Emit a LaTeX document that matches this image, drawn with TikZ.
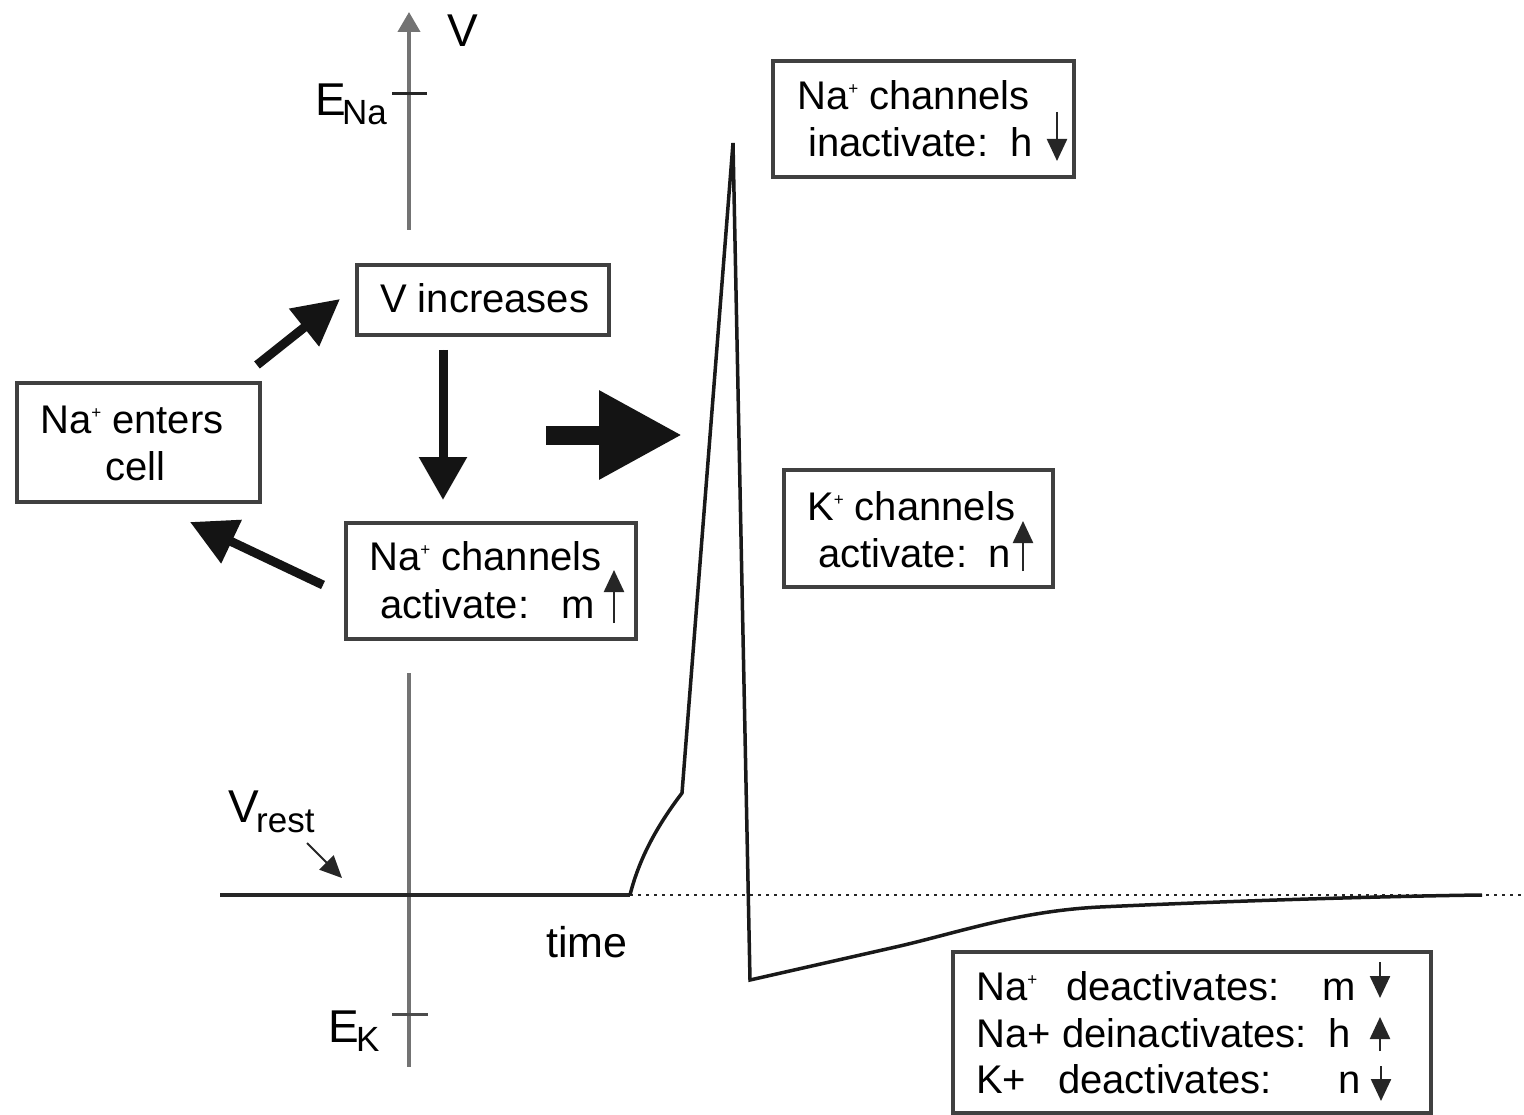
\documentclass[tikz,border=0pt]{standalone}
\usepackage{fontspec}
\setmainfont{Liberation Sans}
\usetikzlibrary{arrows.meta}
\newcommand\supplus{\raisebox{15pt}{\fontsize{17}{17}\selectfont+}}
\begin{document}
\begin{tikzpicture}[x=1pt,y=-1pt,
 boxs/.style={draw=black!75, line width=3.5pt, inner sep=0pt, fill=none},
 txt/.style={anchor=base west, inner sep=0pt, font=\fontsize{40}{48}\selectfont},
 axlab/.style={anchor=base west, inner sep=0pt, font=\fontsize{46}{55}\selectfont},
 sublab/.style={anchor=base west, inner sep=0pt, font=\fontsize{35}{42}\selectfont},
 axisline/.style={draw=black!55, line width=4pt},
 tickline/.style={draw=black!70, line width=3pt},
 bigarrow/.style={draw=black!92, fill=black!92, line width=9pt, -{Triangle[length=46pt,width=46pt]}},
 smallarrow/.style={draw=black!85, line width=2.4pt, -{Triangle[length=22pt,width=20pt]}},
 trace/.style={draw=black!90, line width=3.5pt, line join=miter},
]
\useasboundingbox (0,0) rectangle (1524,1115);
\fill[white] (0,0) rectangle (1524,1115);

% axes
\coordinate (axtop) at (409,12);
\coordinate (axtopstart) at (409,230);
\coordinate (axlowtop) at (409,673);
\coordinate (axlowbot) at (409,1067);
\draw[axisline, -{Triangle[length=20pt,width=22pt]}] (axtopstart) -- (axtop);
\draw[axisline] (axlowtop) -- (axlowbot);
\coordinate (tNa1) at (392,94); \coordinate (tNa2) at (427,94);
\coordinate (tK1) at (392,1014); \coordinate (tK2) at (428,1014);
\draw[tickline, draw=black!85] (tNa1) -- (tNa2);
\draw[tickline] (tK1) -- (tK2);

\node[axlab] (Vlab) at (447,47) {V};
\node[axlab] (ENaE) at (315,116) {E};
\node[sublab] (ENaS) at (342,125) {Na};
\node[axlab] (EKE) at (328,1042) {E};
\node[sublab] (EKS) at (356,1051) {K};
\node[axlab] (VrV) at (228,822) {V};
\node[sublab] (VrS) at (256,832) {rest};
\node[anchor=base west, inner sep=0pt, font=\fontsize{43}{50}\selectfont] (timelab) at (546,957) {time};

% V rest pointer
\coordinate (vra) at (307,843); \coordinate (vrb) at (342,878);
\draw[black!85, line width=2pt, -{Triangle[length=22pt,width=20pt]}] (vra) -- (vrb);

% baseline
\coordinate (bl0) at (220,895); \coordinate (bl1) at (630,895); \coordinate (bl2) at (1524,895);
\draw[black!85, line width=4pt] (bl0) -- (bl1);
\draw[black!85, line width=2.5pt, dash pattern=on 3pt off 5pt] (bl1) -- (bl2);

% action potential trace
\coordinate (p0) at (630,895);
\coordinate (p1) at (682,793);
\coordinate (p2) at (733,143);
\coordinate (p3) at (750,980);
\coordinate (p4) at (900,946);
\coordinate (p5) at (1100,907);
\coordinate (p6) at (1482,895);
\draw[trace] (p0) .. controls (640,855) and (660,822) .. (p1) -- (p2) -- (p3) -- (p4)
  .. controls (960,932) and (1020,911) .. (p5) .. controls (1250,900) and (1400,896) .. (p6);

% boxes
\node[boxs, minimum width=301pt, minimum height=116pt] (bInact) at (923.5,119) {};
\node[boxs, minimum width=252pt, minimum height=70pt] (bVinc) at (483,300) {};
\node[boxs, minimum width=243pt, minimum height=119pt] (bNaEnt) at (138.5,442.5) {};
\node[boxs, minimum width=290pt, minimum height=116pt] (bNaAct) at (491,581) {};
\node[boxs, minimum width=269pt, minimum height=117pt] (bKAct) at (918.5,528.5) {};
\node[boxs, minimum width=478pt, minimum height=161pt] (bBot) at (1192,1032.5) {};

% box texts
\node[txt] (t1a) at (797,110) {Na\supplus\ channels};
\node[txt] (t1b) at (808,157) {inactivate:};
\node[txt] (t1c) at (1010,157) {h};

\node[txt] (t2a) at (380,313) {V increases};

\node[txt] (t3a) at (40,433) {Na\supplus\ enters};
\node[txt] (t3b) at (105,480) {cell};

\node[txt] (t4a) at (369,570) {Na\supplus\ channels};
\node[txt] (t4b) at (380,618) {activate:};
\node[txt] (t4c) at (561,618) {m};

\node[txt] (t5a) at (807,520) {K\supplus\ channels};
\node[txt] (t5b) at (818,567) {activate:};
\node[txt] (t5c) at (988,567) {n};

\node[txt] (t6a) at (976,1000) {Na\supplus};
\node[txt] (t6b) at (1066,1000) {deactivates:};
\node[txt] (t6c) at (1322,1000) {m};
\node[txt] (t7a) at (976,1047) {Na+};
\node[txt] (t7b) at (1062,1047) {deinactivates:};
\node[txt] (t7c) at (1328,1047) {h};
\node[txt] (t8a) at (976,1093) {K+};
\node[txt] (t8b) at (1058,1093) {deactivates:};
\node[txt] (t8c) at (1338,1093) {n};

% small gating arrows
\coordinate (s1a) at (1057,112); \coordinate (s1b) at (1057,161);
\coordinate (s2a) at (614,623); \coordinate (s2b) at (614,570);
\coordinate (s3a) at (1023,571); \coordinate (s3b) at (1023,521);
\coordinate (s4a) at (1380,962); \coordinate (s4b) at (1380,998);
\coordinate (s5a) at (1380,1051); \coordinate (s5b) at (1380,1017);
\coordinate (s6a) at (1381,1066); \coordinate (s6b) at (1381,1101);
\draw[smallarrow] (s1a) -- (s1b);
\draw[smallarrow] (s2a) -- (s2b);
\draw[smallarrow] (s3a) -- (s3b);
\draw[smallarrow] (s4a) -- (s4b);
\draw[smallarrow] (s5a) -- (s5b);
\draw[smallarrow] (s6a) -- (s6b);

% big cycle arrows
\coordinate (a1s) at (257,365); \coordinate (a1e) at (340,299);
\coordinate (a2s) at (323,585); \coordinate (a2e) at (190,522);
\coordinate (a3s) at (443,350); \coordinate (a3e) at (443,500);
\coordinate (a4s) at (546,435); \coordinate (a4e) at (682,435);
\draw[bigarrow] (a1s) -- (a1e);
\draw[bigarrow] (a2s) -- (a2e);
\draw[bigarrow, -{Triangle[length=43pt,width=46pt]}] (a3s) -- (a3e);
\draw[draw=black!92, line width=19pt, -{Triangle[length=83pt,width=84pt]}] (a4s) -- (a4e);
\end{tikzpicture}
\end{document}
